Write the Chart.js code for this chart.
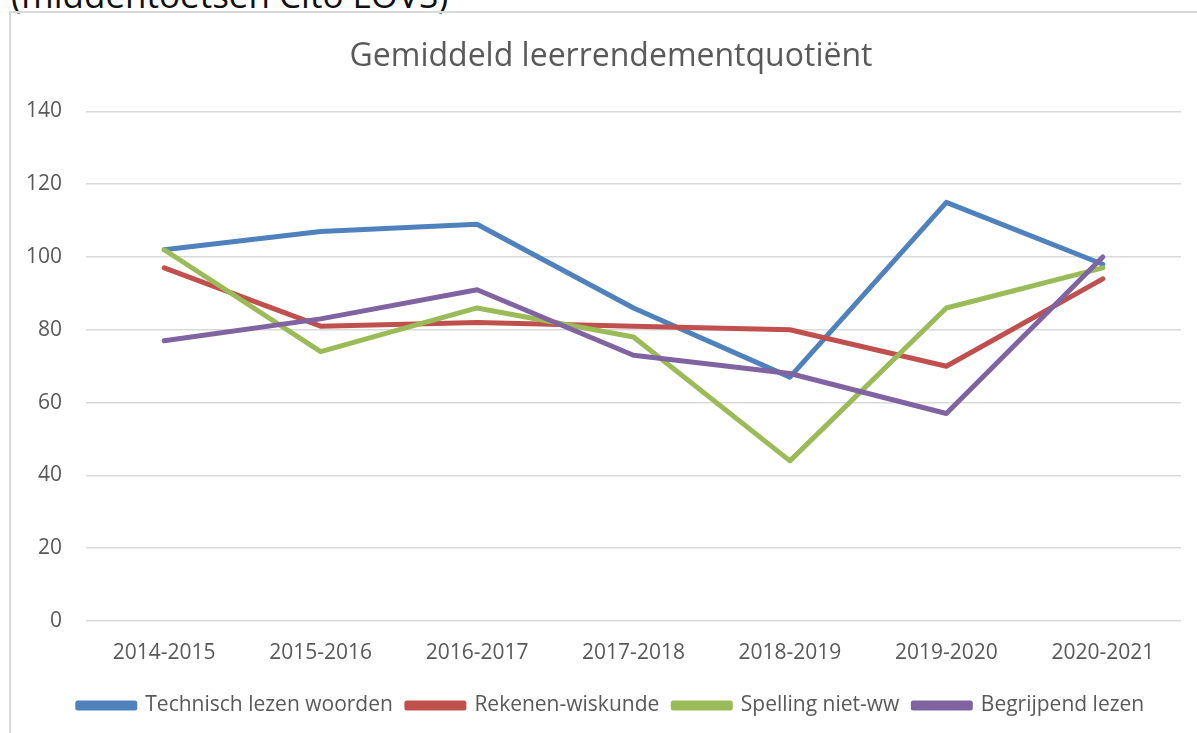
<!DOCTYPE html>
<html>
<head>
<meta charset="utf-8">
<script src="https://cdn.jsdelivr.net/npm/chart.js@4"></script>
<style>
  html, body { margin: 0; padding: 0; width: 1197px; height: 733px; overflow: hidden; background: #fff; }
  #cap { position: absolute; left: 11px; top: -23px; font-family: "Open Sans", sans-serif; font-size: 35px; line-height: 35px; color: #111; white-space: nowrap; }
  #frame { position: absolute; left: 9px; top: 11px; width: 1300px; height: 800px; border-left: 2px solid #d9d9d9; border-top: 2px solid #d9d9d9; }
  #wrap { position: absolute; left: 11px; top: 13px; width: 1200px; height: 720px; }
</style>
</head>
<body>
<div id="cap">(middentoetsen Cito LOVS)</div>
<div id="frame"></div>
<div id="wrap"><canvas id="c" width="1200" height="720"></canvas></div>
<script>
const categories = ["2014-2015", "2015-2016", "2016-2017", "2017-2018", "2018-2019", "2019-2020", "2020-2021"];
const technischLezen = [102, 107, 109, 86, 67, 115, 98];
const rekenenWiskunde = [97, 81, 82, 81, 80, 70, 94];
const spellingNietWw = [102, 74, 86, 78, 44, 86, 97];
const begrijpendLezen = [77, 83, 91, 73, 68, 57, 100];
const seriesNames = ["Technisch lezen woorden", "Rekenen-wiskunde", "Spelling niet-ww", "Begrijpend lezen"];
const seriesColors = ["#4f81bd", "#c0504d", "#9bbb59", "#8064a2"];
const yTicks = { min: 0, max: 140, step: 20 };
const titleText = "Gemiddeld leerrendementquotiënt";

const seriesData = [technischLezen, rekenenWiskunde, spellingNietWw, begrijpendLezen];
const FONT = '"Open Sans", sans-serif';
const TXT = '#595959';

const datasets = seriesData.map((d, i) => ({
  label: seriesNames[i],
  data: d,
  borderColor: seriesColors[i],
  backgroundColor: seriesColors[i],
  borderWidth: 5,
  pointRadius: 0,
  pointHoverRadius: 0,
  tension: 0,
  borderCapStyle: 'round',
  borderJoinStyle: 'round',
  yAxisID: 'y',
  order: seriesData.length - i
}));

new Chart(document.getElementById('c'), {
  type: 'line',
  data: { labels: categories, datasets },
  options: {
    responsive: false,
    animation: false,
    devicePixelRatio: 1,
    layout: { padding: { left: 0, right: 0, top: 0, bottom: 7 } },
    plugins: {
      title: {
        display: true,
        text: titleText,
        color: TXT,
        font: { family: FONT, size: 32, weight: 'normal' },
        padding: { top: 25, bottom: 35 }
      },
      legend: {
        display: true,
        position: 'bottom',
        labels: {
          color: TXT,
          font: { family: FONT, size: 21 },
          boxWidth: 57,
          boxHeight: 5,
          padding: 14,
          sort: (a, b) => a.datasetIndex - b.datasetIndex
        }
      },
      tooltip: { enabled: false }
    },
    scales: {
      x: {
        offset: true,
        grid: { display: false, drawTicks: false, offset: true },
        border: { display: false },
        ticks: { color: TXT, font: { family: FONT, size: 21 }, padding: 19, maxRotation: 0, autoSkip: false },
        afterFit: (s) => { s.height = 60; }
      },
      y: {
        min: yTicks.min,
        max: yTicks.max,
        grid: { color: '#d9d9d9', lineWidth: 1.5, drawTicks: false },
        border: { display: false },
        ticks: { stepSize: yTicks.step, color: TXT, font: { family: FONT, size: 21 }, padding: 24 },
        afterFit: (s) => { s.width = 75; }
      },
      spacer: {
        type: 'linear',
        position: 'right',
        display: true,
        min: 0,
        max: 1,
        grid: { display: false, drawTicks: false },
        border: { display: false },
        ticks: { display: false },
        afterFit: (s) => { s.width = 30; }
      }
    }
  }
});
</script>
</body>
</html>
